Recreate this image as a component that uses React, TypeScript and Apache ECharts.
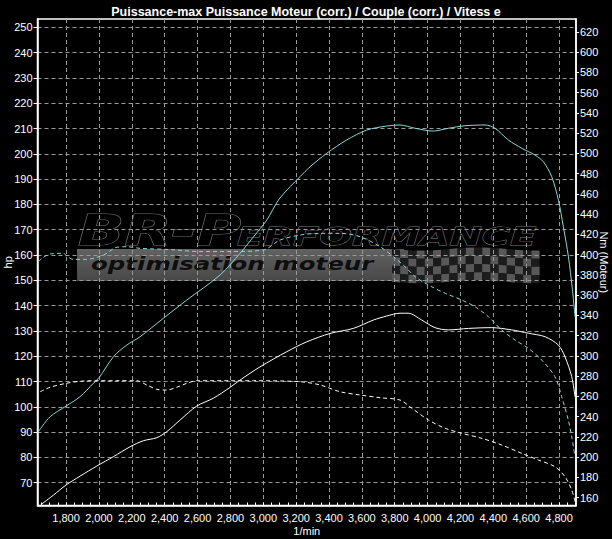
import React, { useEffect, useRef } from "react";
import * as echarts from "echarts";

// ---- data ----
const rpmPowerTuned = [1627, 1703, 1800, 1885, 1966, 2003, 2088, 2169, 2250, 2392, 2534, 2737, 2859, 2940, 3021, 3092, 3163, 3224, 3285, 3386, 3508, 3630, 3751, 3832, 3924, 4035, 4126, 4228, 4350, 4410, 4491, 4573, 4654, 4704, 4755, 4796, 4826, 4857, 4880, 4897];
const powerTuned = [89.8, 96.1, 100.3, 104.0, 109.3, 111.7, 119.8, 124.4, 127.7, 135.0, 142.2, 152.1, 160.7, 167.2, 173.8, 181.7, 187.0, 191.0, 194.9, 200.2, 205.5, 209.4, 211.0, 211.4, 210.1, 209.0, 210.1, 211.1, 211.4, 210.1, 205.5, 202.2, 199.5, 196.9, 191.0, 181.7, 171.2, 159.3, 147.0, 135.6];

const rpmTorqueTuned = [1631, 1662, 1703, 1784, 1804, 1844, 1926, 1987, 2048, 2098, 2169, 2250, 2430, 2615, 2800, 3000, 3102, 3224, 3346, 3467, 3589, 3711, 3792, 3863, 3924, 4005, 4107, 4208, 4289, 4370, 4451, 4532, 4613, 4694, 4775, 4816, 4856, 4877, 4897];
const torqueTuned = [393.0, 397.3, 400.6, 401.3, 398.6, 395.3, 395.3, 397.3, 401.3, 406.8, 407.8, 406.2, 405.0, 403.0, 403.0, 404.5, 414.4, 419.3, 421.0, 421.0, 417.7, 407.8, 397.9, 388.0, 378.2, 370.0, 361.8, 355.2, 348.5, 338.7, 325.5, 315.7, 307.5, 295.9, 279.4, 259.7, 236.7, 220.2, 200.5];

const rpmPowerStock = [1652, 1723, 1800, 1885, 1987, 2088, 2189, 2270, 2352, 2413, 2494, 2595, 2696, 2798, 2859, 2980, 3143, 3265, 3406, 3548, 3670, 3751, 3832, 3883, 3964, 4045, 4126, 4248, 4390, 4512, 4613, 4715, 4796, 4836, 4877, 4897];
const powerStock = [61.6, 65.1, 69.1, 72.6, 76.6, 80.3, 84.2, 86.6, 87.8, 90.2, 94.8, 100.3, 103.4, 107.7, 110.6, 115.8, 121.8, 125.7, 129.0, 131.0, 134.3, 135.9, 137.0, 137.0, 134.3, 131.3, 130.4, 131.0, 131.3, 130.4, 129.1, 127.7, 124.4, 119.8, 111.9, 104.0];

const rpmTorqueStock = [1642, 1703, 1800, 1905, 2003, 2109, 2230, 2291, 2352, 2413, 2473, 2534, 2595, 2798, 2940, 3224, 3346, 3467, 3589, 3711, 3832, 3904, 4005, 4107, 4208, 4330, 4451, 4573, 4674, 4775, 4836, 4877, 4897];
const torqueStock = [264.6, 269.0, 272.9, 275.2, 275.5, 275.5, 275.5, 271.3, 267.0, 266.3, 269.0, 272.9, 275.5, 275.5, 275.5, 274.5, 271.3, 264.6, 261.4, 258.7, 256.4, 248.3, 236.7, 228.5, 223.6, 218.6, 212.0, 203.8, 197.2, 190.6, 180.7, 167.6, 156.1];

const rpmTickLabels = [1800, 2000, 2200, 2400, 2600, 2800, 3000, 3200, 3400, 3600, 3800, 4000, 4200, 4400, 4600, 4800];
const hpTickLabels = [70, 80, 90, 100, 110, 120, 130, 140, 150, 160, 170, 180, 190, 200, 210, 220, 230, 240, 250];
const nmTickLabels = [160, 180, 200, 220, 240, 260, 280, 300, 320, 340, 360, 380, 400, 420, 440, 460, 480, 500, 520, 540, 560, 580, 600, 620];
const rpmMinorTicks: number[] = [];
for (let r = 1650; r <= 4900; r += 50) rpmMinorTicks.push(r);

const TITLE = "Puissance-max Puissance Moteur (corr.) / Couple (corr.) / Vitess e";
const X_MIN = 1626, X_MAX = 4903;
const HP_MIN = 61.0, HP_MAX = 253.3;
const NM_MIN = 152.3, NM_MAX = 632.6;

const FONT = "'Liberation Sans', Arial, sans-serif";
const CYAN = "#86d9d7";

const zip = (xs: number[], ys: number[]) => xs.map((x, i) => [x, ys[i]]);
const fmtRpm = (v: number) => `${Math.floor(v / 1000)},${String(v % 1000).padStart(3, "0")}`;

function watermark() {
  const els: any[] = [];
  els.push({
    type: "polygon", silent: true, z: -5,
    shape: { points: [[77, 249], [404, 249], [394, 281], [77, 281]] },
    style: { fill: new echarts.graphic.LinearGradient(0, 0, 0, 1, [{ offset: 0, color: "#626262" }, { offset: 1, color: "#484848" }]) },
  });
  const cell = 8.2;
  for (let r = 0; r < 4; r++) {
    for (let c = 0; c < 18; c++) {
      const x0 = 392 + c * cell;
      const w0 = Math.sin(c * 0.45) * 1.5;
      const w1 = Math.sin((c + 1) * 0.45) * 1.5;
      const y0 = 249 + r * cell;
      els.push({
        type: "polygon", silent: true, z: -5,
        shape: { points: [[x0, y0 + w0], [x0 + cell, y0 + w1], [x0 + cell, y0 + cell + w1], [x0, y0 + cell + w0]] },
        style: { fill: (r + c) % 2 ? "#585858" : "#1c1c1c" },
      });
    }
  }
  els.push({
    type: "text", silent: true, z: -4, x: 91, y: 264, scaleX: 1.36,
    style: { text: "optimisation moteur", font: "italic bold 18px 'DejaVu Sans'", fill: "#0e0e0e", textVerticalAlign: "middle" },
  });
  els.push({
    type: "text", silent: true, z: -4, x: 78, y: 230.3, scaleX: 1.45,
    style: {
      text: "BR-P", font: "italic bold 42px 'DejaVu Sans'", textVerticalAlign: "middle",
      fill: new echarts.graphic.LinearGradient(0, 0, 0, 1, [{ offset: 0, color: "#505050" }, { offset: 1, color: "#2a2a2a" }]),
      stroke: "#707070", lineWidth: 1,
    },
  });
  els.push({
    type: "text", silent: true, z: -4, x: 237, y: 236.7, scaleX: 1.54,
    style: {
      text: "ERFORMANCE", font: "italic bold 25px 'DejaVu Sans'", textVerticalAlign: "middle",
      fill: new echarts.graphic.LinearGradient(0, 0, 0, 1, [{ offset: 0, color: "#5a5a5a" }, { offset: 1, color: "#383838" }]),
      stroke: "#7a7a7a", lineWidth: 0.8,
    },
  });
  return els;
}

export default function App() {
  const ref = useRef<HTMLDivElement>(null);
  useEffect(() => {
    const chart = echarts.init(ref.current!, null, { renderer: "svg" });
    const labelStyle = { color: "#fff", fontSize: 11, fontFamily: FONT };
    const lineSeries = (name: string, data: number[][], color: string, dashed: boolean, yAxisIndex: number) => ({
      name, type: "line", data, yAxisIndex, xAxisIndex: 0, symbol: "none", smooth: 0.3, z: 5,
      lineStyle: { color, width: 1, type: dashed ? [4, 3] : "solid" },
    });
    const gridLine = { show: true, lineStyle: { color: "#9a9a9a", width: 1, type: [4, 3] } };
    chart.setOption({
      animation: false,
      backgroundColor: "#000",
      title: { text: TITLE, left: "center", top: 0, textStyle: { color: "#fff", fontSize: 12.5, fontWeight: "bold", fontFamily: FONT } },
      grid: { left: 37.5, right: 36, top: 19, bottom: 33.5, outerBoundsMode: "none", containLabel: false, show: true, borderColor: "#fff", borderWidth: 1.5, backgroundColor: "transparent" },
      graphic: watermark(),
      xAxis: [
        {
          type: "value", min: X_MIN, max: X_MAX, position: "bottom", z: 3,
          name: "1/min", nameLocation: "middle", nameGap: 20, nameMoveOverlap: false, nameTextStyle: labelStyle,
          axisLine: { show: true, onZero: false, lineStyle: { color: "#fff", width: 1.5 } },
          axisTick: { show: false, customValues: rpmTickLabels },
          axisLabel: { ...labelStyle, margin: 7, customValues: rpmTickLabels, formatter: (v: number) => fmtRpm(v) },
          splitLine: gridLine,
        },
        {
          type: "value", min: X_MIN, max: X_MAX, position: "bottom", z: 3,
          axisLine: { show: false },
          axisTick: { show: true, inside: true, length: 3, customValues: rpmMinorTicks, lineStyle: { color: "#fff", width: 1 } },
          axisLabel: { show: false },
          splitLine: { show: false },
        },
      ],
      yAxis: [
        {
          type: "value", min: HP_MIN, max: HP_MAX, position: "left", z: 3,
          name: "hp", nameLocation: "middle", nameGap: 24, nameRotate: 90, nameMoveOverlap: false, nameTextStyle: labelStyle,
          axisLine: { show: true, onZero: false, lineStyle: { color: "#fff", width: 1.5 } },
          axisTick: { show: true, length: 4, customValues: hpTickLabels, lineStyle: { color: "#fff" } },
          axisLabel: { ...labelStyle, margin: 5, customValues: hpTickLabels },
          splitLine: gridLine,
        },
        {
          type: "value", min: NM_MIN, max: NM_MAX, position: "right", z: 3,
          name: "Nm (Moteur)", nameLocation: "middle", nameGap: 22, nameRotate: -90, nameMoveOverlap: false, nameTextStyle: labelStyle,
          axisLine: { show: true, onZero: false, lineStyle: { color: "#fff", width: 1.5 } },
          axisTick: { show: true, length: 3, customValues: nmTickLabels, lineStyle: { color: "#fff" } },
          axisLabel: { ...labelStyle, margin: 4, customValues: nmTickLabels },
          splitLine: { show: false },
        },
      ],
      series: [
        lineSeries("Puissance (corr.)", zip(rpmPowerTuned, powerTuned), CYAN, false, 0),
        lineSeries("Couple (corr.)", zip(rpmTorqueTuned, torqueTuned), CYAN, true, 1),
        lineSeries("Puissance série", zip(rpmPowerStock, powerStock), "#ffffff", false, 0),
        lineSeries("Couple série", zip(rpmTorqueStock, torqueStock), "#ffffff", true, 1),
      ],
    });
    return () => chart.dispose();
  }, []);
  return <div ref={ref} style={{ position: "fixed", left: 0, top: 0, width: 612, height: 539, background: "#000" }} />;
}
